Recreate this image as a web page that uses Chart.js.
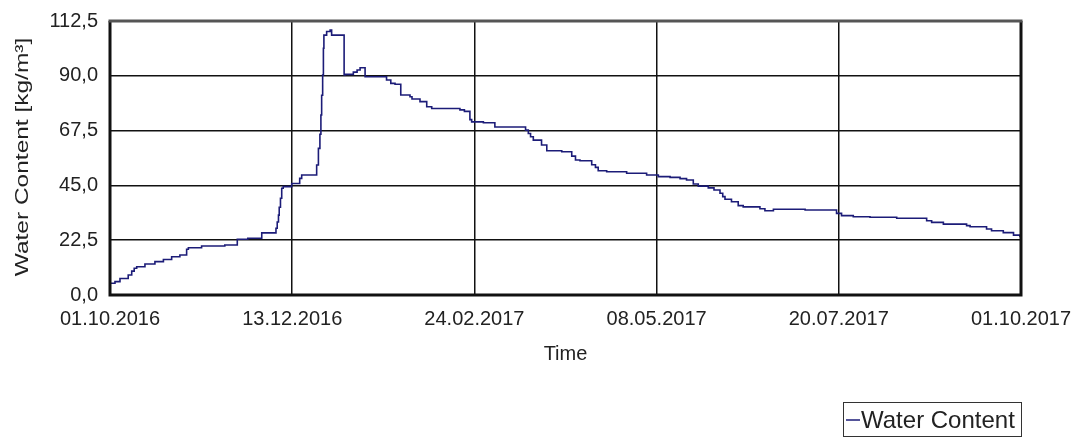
<!DOCTYPE html>
<html>
<head>
<meta charset="utf-8">
<title>Water Content</title>
<script src="https://cdn.jsdelivr.net/npm/chart.js@4.4.1/dist/chart.umd.min.js"></script>
<style>
    body { margin: 0; background: #fff; }
    canvas { display: block; }
</style>
</head>
<body>
<canvas id="chart01" width="1074" height="441"></canvas>
<script>
// days since 01.10.2016 and the water content (step starts)
const days = [
    0, 2, 4, 7.3, 8.7, 9.7, 10.7, 14, 18, 21.4, 24.7, 28, 30.7, 31.4, 36.7, 46, 51,
    55.2, 60.8, 66.5, 67, 67.5, 67.8, 68.3, 68.8, 69.4, 72.8, 76, 76.8, 82.8, 83.5,
    84.1, 84.5, 84.8, 85.2, 85.5, 85.7, 86.8, 88.2, 88.8, 93.8, 94.2, 97.5, 99, 100.2,
    102.2, 110.8, 112.5, 114.2, 116.5, 120.2, 121, 124.2, 126.9, 128.9, 140.2, 142,
    144.2, 144.9, 149.6, 154.2, 166.5, 167.6, 168.5, 169.6, 172.9, 175, 181, 185,
    186.5, 188.3, 193, 194.5, 195.6, 199, 207, 215, 219.7, 224.4, 228.4, 231, 233.7,
    235.7, 239.7, 242, 244.4, 245.5, 246.4, 249, 251.7, 253.7, 260.4, 262.4, 265.8,
    278.5, 291.1, 293.1, 297.8, 304.5, 315.2, 327.2, 329.2, 333.9, 343.2, 344.6,
    351.2, 353.2, 357.9, 362, 364.6, 365
];
const waterContent = [
    2.7, 4.8, 5.5, 6.8, 8.2, 9.8, 11.0, 11.6, 12.7, 13.7, 14.6, 15.7, 16.4, 18.8, 19.4, 20.1, 20.5,
    22.9, 23.3, 25.5, 27.4, 30.0, 32.8, 36.0, 39.7, 43.8, 44.5, 45.8, 47.9, 49.3, 53.4,
    60.2, 66.0, 73.9, 82.0, 90.3, 101.3, 106.7, 108.2, 108.8, 106.7, 90.3, 90.6, 91.5, 92.4,
    93.3, 89.6, 88.3, 86.9, 86.5, 82.1, 81.4, 80.5, 79.4, 77.3, 76.6, 76.0,
    75.4, 72.0, 71.1, 70.7, 69.0, 67.7, 66.3, 65.0, 63.6, 61.6, 59.2, 58.8,
    57.0, 55.4, 55.1, 53.5, 52.4, 51.0, 50.6, 50.0, 49.3, 48.6, 48.3, 47.8, 47.2,
    45.6, 44.7, 44.0, 43.1, 41.8, 40.4, 39.3, 38.3, 36.7, 36.2, 35.4, 34.6,
    35.2, 34.9, 33.5, 32.6, 32.1, 31.9, 31.5, 30.5, 29.8, 29.1, 28.5,
    28.0, 27.1, 26.4, 25.6, 24.6, 24.0
];

const dateTicks = [0, 73, 146, 219, 292, 365];
const dateLabels = ['01.10.2016', '13.12.2016', '24.02.2017', '08.05.2017', '20.07.2017', '01.10.2017'];
const yTicks = [0, 22.5, 45, 67.5, 90, 112.5];
const yLabels = ['0,0', '22,5', '45,0', '67,5', '90,0', '112,5'];

const FONT = "'Liberation Sans', Arial, sans-serif";
const LINE_COLOR = '#1c1c78';

// titles, frame and the boxed legend
const decorPlugin = {
    id: 'decor',
    afterDatasetsDraw(chart) {
        const ctx = chart.ctx;
        const a = chart.chartArea;
        ctx.save();
        ctx.strokeStyle = '#111';
        ctx.lineWidth = 3;
        ctx.beginPath();
        ctx.moveTo(a.left, a.top);
        ctx.lineTo(a.left, a.bottom);
        ctx.lineTo(a.right, a.bottom);
        ctx.lineTo(a.right, a.top);
        ctx.stroke();
        ctx.strokeStyle = '#555';
        ctx.beginPath();
        ctx.moveTo(a.left - 1.5, a.top);
        ctx.lineTo(a.right + 1.5, a.top);
        ctx.stroke();
        ctx.restore();
    },
    afterDraw(chart) {
        const ctx = chart.ctx;
        const a = chart.chartArea;
        ctx.save();
        ctx.fillStyle = '#222';

        // y title, stretched like the original
        ctx.save();
        ctx.translate(23, 157);
        ctx.rotate(-Math.PI / 2);
        ctx.scale(1.36, 1);
        ctx.font = '18px ' + FONT;
        ctx.textAlign = 'center';
        ctx.textBaseline = 'middle';
        ctx.fillText('Water Content [kg/m³]', 0, 0);
        ctx.restore();

        // x title
        ctx.font = '20px ' + FONT;
        ctx.textAlign = 'center';
        ctx.textBaseline = 'middle';
        ctx.fillText('Time', (a.left + a.right) / 2, 354);

        // legend
        ctx.strokeStyle = '#333';
        ctx.lineWidth = 1;
        ctx.strokeRect(843.5, 402.5, 178, 34);
        ctx.strokeStyle = LINE_COLOR;
        ctx.lineWidth = 1.5;
        ctx.beginPath();
        ctx.moveTo(846, 420);
        ctx.lineTo(860, 420);
        ctx.stroke();
        ctx.font = '24px ' + FONT;
        ctx.textAlign = 'left';
        ctx.fillText('Water Content', 861, 421);
        ctx.restore();
    }
};

const ctx01 = document.getElementById('chart01');
const points = days.map((d, i) => ({ x: d, y: waterContent[i] }));

new Chart(ctx01, {
    type: 'line',
    data: {
        datasets: [{
            label: 'Water Content',
            data: points,
            borderColor: LINE_COLOR,
            borderWidth: 1.6,
            pointRadius: 0,
            stepped: 'after',
            fill: false
        }]
    },
    options: {
        responsive: false,
        animation: false,
        devicePixelRatio: 1,
        layout: { padding: { left: 0, right: 53, top: 21, bottom: 0 } },
        plugins: {
            legend: { display: false },
            tooltip: { enabled: false }
        },
        scales: {
            x: {
                type: 'linear',
                min: 0,
                max: 365,
                afterFit: (scale) => {
                    scale.height = 146;
                    scale.paddingLeft = 0;
                    scale.paddingRight = 0;
                },
                afterBuildTicks: (scale) => { scale.ticks = dateTicks.map(v => ({ value: v })); },
                grid: { color: '#111', lineWidth: 1.5, drawTicks: false },
                border: { display: false },
                ticks: {
                    padding: 12,
                    color: '#222',
                    maxRotation: 0,
                    font: { family: FONT, size: 20 },
                    callback: (v) => dateLabels[dateTicks.indexOf(v)]
                }
            },
            y: {
                min: 0,
                max: 112.5,
                afterFit: (scale) => {
                    scale.width = 110;
                    scale.paddingTop = 0;
                    scale.paddingBottom = 0;
                },
                afterBuildTicks: (scale) => { scale.ticks = yTicks.map(v => ({ value: v })); },
                grid: { color: '#111', lineWidth: 1.5, drawTicks: false },
                border: { display: false },
                ticks: {
                    padding: 12,
                    color: '#222',
                    font: { family: FONT, size: 20 },
                    callback: (v) => yLabels[yTicks.indexOf(v)]
                }
            }
        }
    },
    plugins: [decorPlugin]
});
</script>
</body>
</html>
